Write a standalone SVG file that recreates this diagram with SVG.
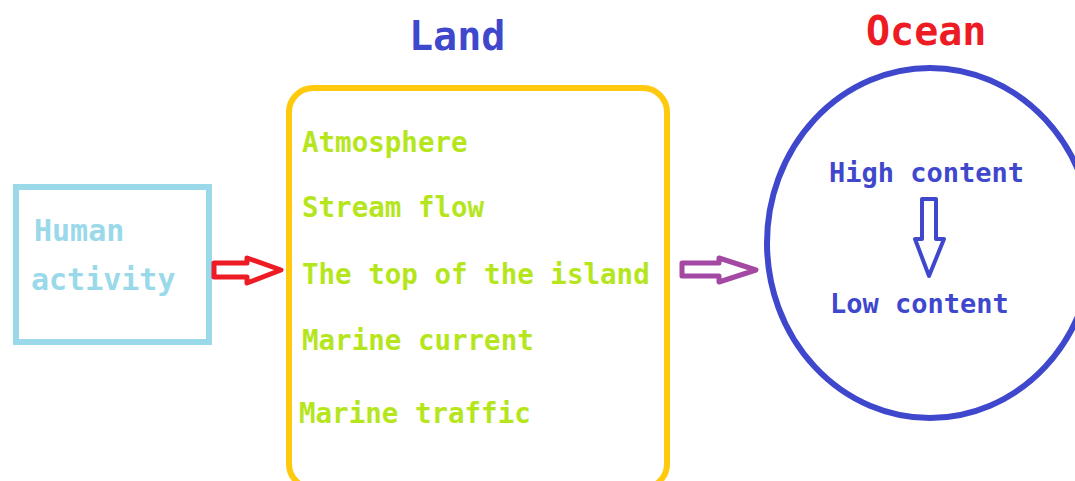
<svg xmlns="http://www.w3.org/2000/svg" width="1075" height="481" viewBox="0 0 1075 481">
<style>
text{font-family:"DejaVu Sans Mono","Liberation Mono",monospace;font-weight:bold}
.item{fill:#B5E61D;font-size:27.5px}
.human{fill:#99D9EA;font-size:30px}
.oc{fill:#3F48CC;font-size:27px}
.arrow{fill:#fff;stroke-linejoin:round}
</style>
<rect width="1075" height="481" fill="#fff"/>
<g id="title-land"><text x="409" y="50" font-size="40" fill="#3F48CC">Land</text></g>
<g id="title-ocean"><text x="866" y="45" font-size="40" fill="#ED1C24">Ocean</text></g>
<g id="human">
<rect x="16" y="187" width="193" height="155" fill="none" stroke="#99D9EA" stroke-width="6"/>
<text class="human" x="34" y="241">Human</text>
<text class="human" x="31" y="290">activity</text>
</g>
<g id="land">
<rect x="289" y="88" width="378" height="400" rx="24" fill="none" stroke="#FFC90E" stroke-width="6"/>
<text class="item" x="302" y="152">Atmosphere</text>
<text class="item" x="302" y="217">Stream flow</text>
<text class="item" x="302" y="284">The top of the island</text>
<text class="item" x="302" y="350">Marine current</text>
<text class="item" x="299" y="423">Marine traffic</text>
</g>
<g id="ocean">
<ellipse cx="930" cy="243" rx="163" ry="175" fill="none" stroke="#3F48CC" stroke-width="6"/>
<text class="oc" x="829" y="182">High content</text>
<text class="oc" x="830" y="313">Low content</text>
<polygon class="arrow" points="922,199 936,199 936,239 944,239 929,276 915,239 922,239" stroke="#3F48CC" stroke-width="4"/>
</g>
<g id="connectors">
<polygon class="arrow" points="214,263 247,263 247,258 281,270 247,283 247,277 214,277" stroke="#ED1C24" stroke-width="5"/>
<polygon class="arrow" points="682,263 719,263 719,258 756,270 719,282 719,276 682,276" stroke="#A349A4" stroke-width="5"/>
</g>
</svg>
